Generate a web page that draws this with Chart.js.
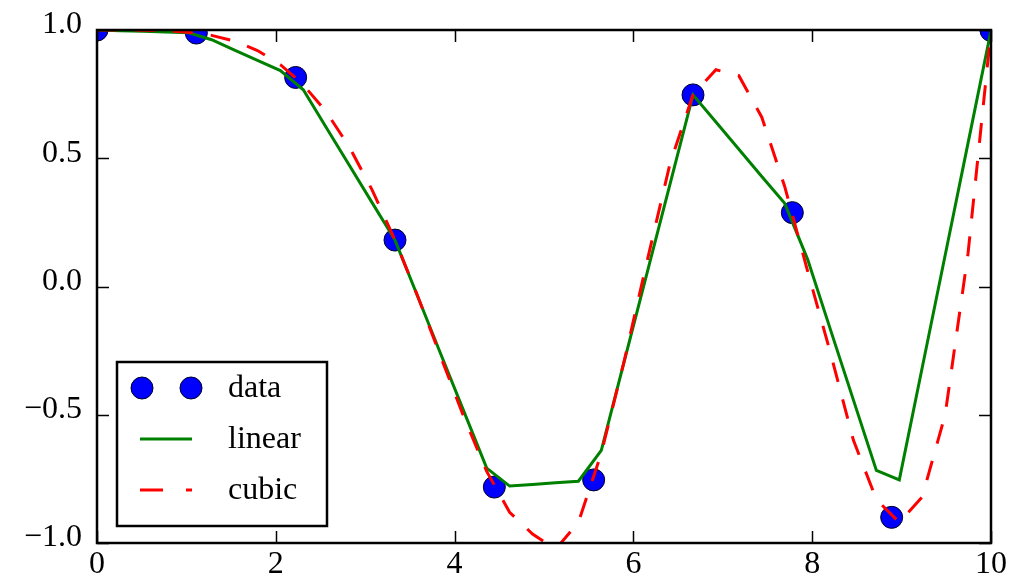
<!DOCTYPE html>
<html>
<head>
<meta charset="utf-8">
<script src="https://cdn.jsdelivr.net/npm/chart.js@4/dist/chart.umd.min.js"></script>
<style>
  html, body { margin: 0; padding: 0; background: #fff; }
  #wrap { width: 1009px; height: 582px; }
</style>
</head>
<body>
<div id="wrap"><canvas id="c" width="1009" height="582"></canvas></div>
<script>
// ---- data ----
const dataX = [0, 1.1111, 2.2222, 3.3333, 4.4444, 5.5556, 6.6667, 7.7778, 8.8889, 10];
const dataY = [1.000, 0.988, 0.815, 0.181, -0.782, -0.754, 0.747, 0.288, -0.900, 0.998];

const xNew = [0, 0.2564, 0.5128, 0.7692, 1.0256, 1.2821, 1.5385, 1.7949, 2.0513, 2.3077,
  2.5641, 2.8205, 3.0769, 3.3333, 3.5897, 3.8462, 4.1026, 4.3590, 4.6154, 4.8718,
  5.1282, 5.3846, 5.6410, 5.8974, 6.1538, 6.4103, 6.6667, 6.9231, 7.1795, 7.4359,
  7.6923, 7.9487, 8.2051, 8.4615, 8.7179, 8.9744, 9.2308, 9.4872, 9.7436, 10];

const linearY = [1.000, 0.997, 0.995, 0.992, 0.989, 0.962, 0.922, 0.882, 0.842, 0.767,
  0.620, 0.474, 0.327, 0.181, -0.041, -0.264, -0.486, -0.708, -0.778, -0.772,
  -0.765, -0.759, -0.639, -0.292, 0.054, 0.400, 0.747, 0.641, 0.535, 0.429,
  0.324, 0.106, -0.169, -0.443, -0.717, -0.754, -0.316, 0.122, 0.560, 0.998];

const cubicY = [1.000, 1.000, 0.999, 0.997, 0.991, 0.979, 0.957, 0.920, 0.865, 0.786,
  0.681, 0.545, 0.377, 0.181, -0.040, -0.275, -0.508, -0.721, -0.880, -0.965,
  -1.025, -0.920, -0.650, -0.290, 0.100, 0.480, 0.747, 0.845, 0.822, 0.660,
  0.390, 0.060, -0.260, -0.600, -0.830, -0.920, -0.820, -0.500, 0.130, 0.998];

const xTicks = [0, 2, 4, 6, 8, 10];
const yTicks = [-1.0, -0.5, 0.0, 0.5, 1.0];
const legendLabels = ['data', 'linear', 'cubic'];

// ---- styles ----
const FONT = "'Liberation Serif', 'DejaVu Serif', 'Times New Roman', serif";
const BLUE = '#0000ff', GREEN = '#008000', RED = '#ff0000';
const DASH = [20, 18];

const pts = (xs, ys) => xs.map((x, i) => ({ x: x, y: ys[i] }));
const fmt = v => (v < 0 ? '\u2212' : '') + Math.abs(v).toFixed(1);

const framePlugin = {
  id: 'frame',
  afterDraw(chart) {
    const { ctx, chartArea: a, scales } = chart;
    const tl = 12;
    ctx.save();
    ctx.strokeStyle = '#000';
    ctx.lineWidth = 1.5;
    ctx.beginPath();
    xTicks.forEach(v => {
      const px = Math.round(scales.x.getPixelForValue(v)) + 0.5;
      ctx.moveTo(px, a.bottom); ctx.lineTo(px, a.bottom - tl);
      ctx.moveTo(px, a.top); ctx.lineTo(px, a.top + tl);
    });
    yTicks.forEach(v => {
      const py = Math.round(scales.y.getPixelForValue(v)) + 0.5;
      ctx.moveTo(a.left, py); ctx.lineTo(a.left + tl, py);
      ctx.moveTo(a.right, py); ctx.lineTo(a.right - tl, py);
    });
    ctx.stroke();
    ctx.lineWidth = 2.5;
    ctx.strokeRect(a.left, a.top, a.right - a.left, a.bottom - a.top);

    // legend box
    const lx = 117, ly = 362, lw = 210, lh = 164;
    ctx.fillStyle = '#fff';
    ctx.fillRect(lx, ly, lw, lh);
    ctx.lineWidth = 2.5;
    ctx.strokeStyle = '#000';
    ctx.strokeRect(lx, ly, lw, lh);

    const rows = [388, 439, 490];
    [142, 191].forEach(cx => {
      ctx.beginPath();
      ctx.arc(cx, rows[0], 11, 0, Math.PI * 2);
      ctx.fillStyle = BLUE; ctx.fill();
      ctx.lineWidth = 1; ctx.strokeStyle = '#000022'; ctx.stroke();
    });
    ctx.beginPath();
    ctx.lineWidth = 3; ctx.strokeStyle = GREEN;
    ctx.moveTo(140, rows[1]); ctx.lineTo(192, rows[1]); ctx.stroke();
    ctx.beginPath();
    ctx.strokeStyle = RED; ctx.setLineDash([23, 23]);
    ctx.moveTo(140, rows[2]); ctx.lineTo(192, rows[2]); ctx.stroke();
    ctx.setLineDash([]);

    ctx.fillStyle = '#000';
    ctx.font = '32px ' + FONT;
    ctx.textAlign = 'left';
    ctx.textBaseline = 'alphabetic';
    legendLabels.forEach((t, i) => ctx.fillText(t, 228, rows[i] + 9));
    ctx.restore();
  }
};

new Chart(document.getElementById('c'), {
  type: 'scatter',
  data: {
    datasets: [
      { label: legendLabels[0], data: pts(dataX, dataY), showLine: false,
        pointRadius: 11, pointHoverRadius: 11, pointBackgroundColor: BLUE,
        pointBorderColor: '#000022', pointBorderWidth: 1, clip: 0, order: 3 },
      { label: legendLabels[1], data: pts(xNew, linearY), showLine: true,
        borderColor: GREEN, borderWidth: 3, pointRadius: 0, pointHoverRadius: 0,
        tension: 0, clip: 0, order: 2 },
      { label: legendLabels[2], data: pts(xNew, cubicY), showLine: true,
        borderColor: RED, borderWidth: 3, borderDash: DASH, pointRadius: 0,
        pointHoverRadius: 0, tension: 0, clip: 0, order: 1 }
    ]
  },
  options: {
    responsive: false,
    animation: false,
    devicePixelRatio: 1,
    layout: { padding: { top: 30, right: 18, left: 0, bottom: 0 } },
    plugins: { legend: { display: false }, tooltip: { enabled: false } },
    scales: {
      x: {
        type: 'linear', min: 0, max: 10,
        grid: { display: false, drawTicks: false },
        border: { display: false },
        afterBuildTicks: s => { s.ticks = xTicks.map(v => ({ value: v })); },
        afterFit: s => { s.height = 39; },
        ticks: { padding: 2, color: '#000', font: { family: FONT, size: 32 },
                 maxRotation: 0, callback: v => String(v) }
      },
      y: {
        type: 'linear', min: -1, max: 1,
        grid: { display: false, drawTicks: false },
        border: { display: false },
        afterBuildTicks: s => { s.ticks = yTicks.map(v => ({ value: v })); },
        afterFit: s => { s.width = 97; },
        ticks: { padding: 15, labelOffset: -5, color: '#000',
                 font: { family: FONT, size: 32, lineHeight: 0.8 }, callback: v => fmt(v) }
      }
    }
  },
  plugins: [framePlugin]
});
</script>
</body>
</html>
